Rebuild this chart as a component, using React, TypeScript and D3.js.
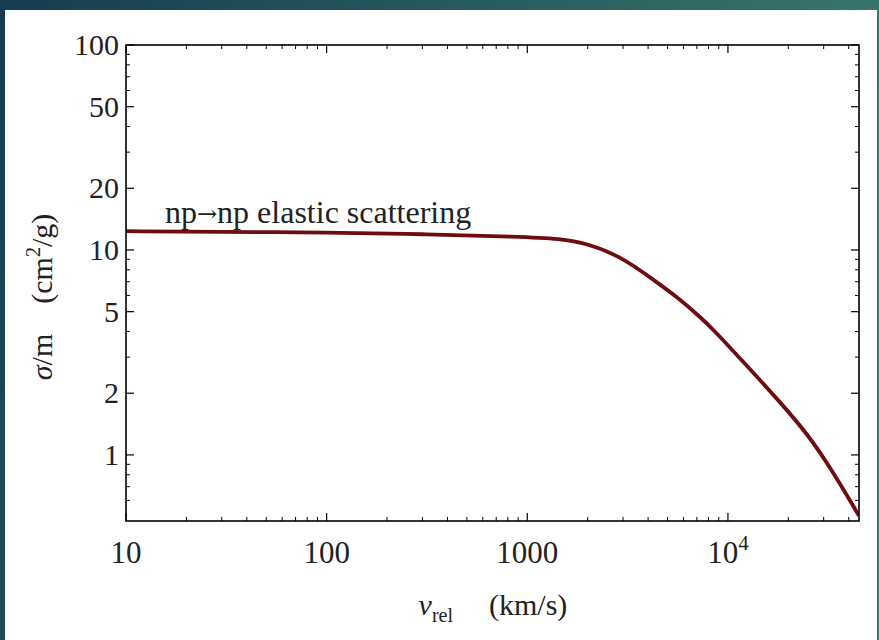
import React, { useEffect, useRef } from "react";
import * as d3 from "d3";

const velocity = [10, 30, 100, 300, 921, 1459, 1982, 2904, 4237, 5780, 7280, 8450, 12480, 18210, 24830, 32360, 45000];
const sigma = [12.35, 12.25, 12.17, 11.95, 11.6, 11.34, 10.76, 9.33, 7.18, 5.74, 4.7, 4.1, 2.71, 1.81, 1.27, 0.87, 0.505];
const xTickValues = [10, 100, 1000, 10000];
const xTickLabels = ["10", "100", "1000", "10^4"];
const yTickValues = [1, 2, 5, 10, 20, 50, 100];
const yTickLabels = ["1", "2", "5", "10", "20", "50", "100"];
const annotationLeft = "np";
const annotationArrow = "\u2192";
const annotationRight = "np elastic scattering";

const W = 879, H = 640;
const L = 126, R = 859, T = 45, B = 521;

export default function App() {
  const ref = useRef<SVGSVGElement>(null);
  useEffect(() => {
    const svg = d3.select(ref.current);
    svg.selectAll("*").remove();
    const defs = svg.append("defs");
    const g1 = defs.append("linearGradient").attr("id", "bg").attr("x1", "0").attr("y1", "0").attr("x2", "1").attr("y2", "0.3");
    g1.append("stop").attr("offset", "0").attr("stop-color", "#163c4f");
    g1.append("stop").attr("offset", "1").attr("stop-color", "#3a7a6d");
    svg.append("rect").attr("width", W).attr("height", H).attr("fill", "url(#bg)");
    svg.append("rect").attr("x", 5).attr("y", 10).attr("width", 872).attr("height", H - 10).attr("fill", "#ffffff");

    const x = d3.scaleLog().domain([10, 45000]).range([L, R]);
    const y = d3.scaleLog().domain([0.476, 100]).range([B, T]);
    const font = "'Liberation Serif', 'Times New Roman', serif";

    const xMinor: number[] = [];
    for (let d = 10; d < 100000; d *= 10) for (let k = 2; k <= 9; k++) if (d * k <= 45000) xMinor.push(d * k);
    const yMinor: number[] = [];
    for (let d = 0.1; d < 100; d *= 10) for (let k = 3; k <= 9; k++) { const v = d * k; if (v >= 0.476 && v < 100 && Math.abs(v - 5) > 1e-9 && Math.abs(v - 50) > 1e-9 && Math.abs(v - 0.5) > 1e-9) yMinor.push(v); }

    const ax = svg.append("g").attr("stroke", "#000");
    xMinor.forEach(v => {
      ax.append("line").attr("x1", x(v)).attr("x2", x(v)).attr("y1", B).attr("y2", B - 4).attr("stroke-width", 1);
      ax.append("line").attr("x1", x(v)).attr("x2", x(v)).attr("y1", T).attr("y2", T + 4).attr("stroke-width", 1);
    });
    xTickValues.forEach(v => {
      ax.append("line").attr("x1", x(v)).attr("x2", x(v)).attr("y1", B).attr("y2", B - 8).attr("stroke-width", 1.2);
      ax.append("line").attr("x1", x(v)).attr("x2", x(v)).attr("y1", T).attr("y2", T + 8).attr("stroke-width", 1.2);
    });
    yMinor.forEach(v => {
      ax.append("line").attr("x1", L).attr("x2", L + 4).attr("y1", y(v)).attr("y2", y(v)).attr("stroke-width", 1);
      ax.append("line").attr("x1", R).attr("x2", R - 4).attr("y1", y(v)).attr("y2", y(v)).attr("stroke-width", 1);
    });
    yTickValues.forEach(v => {
      ax.append("line").attr("x1", L).attr("x2", L + 8).attr("y1", y(v)).attr("y2", y(v)).attr("stroke-width", 1.2);
      ax.append("line").attr("x1", R).attr("x2", R - 8).attr("y1", y(v)).attr("y2", y(v)).attr("stroke-width", 1.2);
    });

    const line = d3.line<number>().x((_, i) => x(velocity[i])).y(d => y(d)).curve(d3.curveBasis);
    const clip = defs.append("clipPath").attr("id", "clip");
    clip.append("rect").attr("x", L).attr("y", T).attr("width", R - L).attr("height", B - T);
    svg.append("path").datum(sigma).attr("d", line).attr("fill", "none").attr("stroke", "#6e0c10").attr("stroke-width", 3.8).attr("clip-path", "url(#clip)");

    svg.append("rect").attr("x", L).attr("y", T).attr("width", R - L).attr("height", B - T).attr("fill", "none").attr("stroke", "#000").attr("stroke-width", 1.6);

    xTickValues.forEach((v, i) => {
      const lab = xTickLabels[i];
      const t = svg.append("text").attr("x", x(v)).attr("y", 563).attr("text-anchor", "middle").attr("font-family", font).attr("font-size", 31).attr("fill", "#222");
      if (lab.includes("^")) {
        const [b, e] = lab.split("^");
        t.append("tspan").text(b);
        t.append("tspan").attr("dy", -13).attr("font-size", 21).text(e);
      } else t.text(lab);
    });
    yTickValues.forEach((v, i) => {
      svg.append("text").attr("x", L - 7).attr("y", y(v) + 10).attr("text-anchor", "end").attr("font-family", font).attr("font-size", 30).attr("fill", "#222").text(yTickLabels[i]);
    });

    const xt = svg.append("text").attr("x", 493).attr("y", 615).attr("text-anchor", "middle").attr("font-family", font).attr("font-size", 30).attr("fill", "#222");
    xt.append("tspan").attr("font-style", "italic").text("v");
    xt.append("tspan").attr("dy", 7).attr("font-size", 20).text("rel");
    xt.append("tspan").attr("dy", -7).text("\u2003\u2009(km/s)");

    const yt = svg.append("text").attr("transform", "translate(52,297) rotate(-90)").attr("text-anchor", "middle").attr("font-family", font).attr("font-size", 30).attr("fill", "#222");
    yt.append("tspan").attr("font-style", "italic").text("\u03c3");
    yt.append("tspan").text("/m\u2003(cm");
    yt.append("tspan").attr("dy", -12).attr("font-size", 20).text("2");
    yt.append("tspan").attr("dy", 12).text("/g)");

    const an = svg.append("text").attr("x", 165).attr("y", 223).attr("font-family", font).attr("font-size", 32).attr("fill", "#222");
    an.append("tspan").text(annotationLeft);
    an.append("tspan").attr("font-family", "'DejaVu Serif', serif").attr("font-size", 24).attr("dy", -1).text(annotationArrow);
    an.append("tspan").attr("dy", 1).text(annotationRight);
  }, []);
  return <svg ref={ref} width={W} height={H} style={{ position: "absolute", left: 0, top: 0 }} />;
}
